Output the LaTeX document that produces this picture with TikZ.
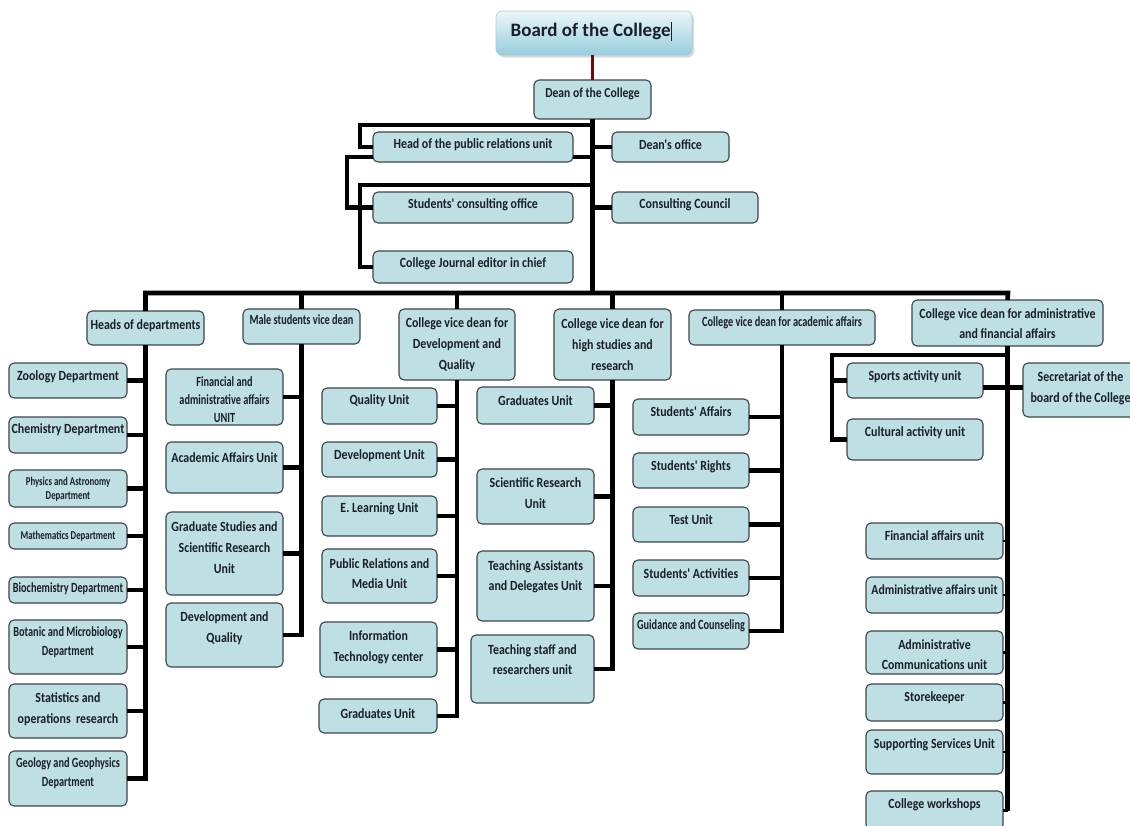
\documentclass[tikz,border=0pt]{standalone}
\usepackage{fontspec}
\newfontfamily\orgfont{Carlito}[FakeStretch=0.85]
\newfontfamily\orgnarrow{Carlito}[FakeStretch=0.735]
\newfontfamily\titlefont{Carlito}
\usetikzlibrary{shadows}

\definecolor{unitfill}{RGB}{190,223,227}
\definecolor{unitline}{RGB}{60,70,72}
\definecolor{inkcol}{RGB}{25,30,40}
\definecolor{boardtop}{RGB}{236,247,250}
\definecolor{boardbot}{RGB}{150,205,220}
\definecolor{boardline}{RGB}{165,205,218}
\definecolor{deanlink}{RGB}{105,12,12}

\newcommand\fs[2]{\fontsize{#1}{#2}\selectfont}
% label faces: regular, narrow, and the small narrow one
\newcommand\nrm{\orgfont\fs{14}{18}}
\newcommand\nrmm[1]{\orgfont\fs{14}{#1}}
\newcommand\sml{\orgnarrow\fs{14}{18}}
\newcommand\smll[1]{\orgnarrow\fs{14}{#1}}
\newcommand\tny{\orgnarrow\fs{12}{14}}

% #1 name, #2 x1, #3 y1, #4 x2, #5 y2, #6 text centre y, #7 face, #8 text
\newcommand\orgbox[8]{%
  \node[unit, minimum width={(#4-#2)*1pt}, minimum height={(#5-#3)*1pt}]
    (#1) at ({(#2+#4)/2},{(#3+#5)/2}) {};
  \node[unittext, font={#7\bfseries}] (#1-t) at ({(#2+#4)/2},#6) {#8};
}

\begin{document}
\begin{tikzpicture}[x=1pt, y=-1pt,
  unit/.style={draw=unitline, fill=unitfill, line width=1.1pt,
    rounded corners=5pt, inner sep=0pt, outer sep=0pt},
  unittext/.style={text=inkcol, align=center, inner sep=0pt},
  wire/.style={line width=4.6pt, black, line join=miter},
  thinwire/.style={line width=2.2pt, black},
  boardbox/.style={rounded corners=6pt, top color=boardtop, bottom color=boardbot,
    draw=boardline, line width=0.6pt, inner sep=0pt, outer sep=0pt,
    drop shadow={opacity=0.3, shadow xshift=2pt, shadow yshift=-2.5pt}},
]
\useasboundingbox (0,0) rectangle (1130,825);
\clip (0,0) rectangle (1130,825);
\fill[white] (0,0) rectangle (1130,825);

% ---------- top of the chart ----------
\node[boardbox, minimum width=196pt, minimum height=44pt] (board) at (594,33) {};
\node[text=inkcol, font={\titlefont\bfseries\fs{19}{22}}] (board-t) at (591,31)
  {Board of the College\rule[-4pt]{0.7pt}{19pt}};

\orgbox{dean}{534}{80}{651}{119}{94}{\orgfont\fs{13.7}{18}}{Dean of the College}
\orgbox{hpr}{373}{132}{573}{162}{145}{\nrm}{Head of the public relations unit}
\orgbox{sco}{373}{192}{573}{223}{205}{\nrm}{Students' consulting office}
\orgbox{cje}{373}{251}{573}{283}{264}{\nrm}{College Journal editor in chief}
\orgbox{dof}{612}{132}{729}{162}{145}{\nrm}{Dean's office}
\orgbox{cc}{612}{192}{758}{223}{205}{\nrm}{Consulting Council}

% ---------- second level ----------
\orgbox{heads}{87}{311}{204}{345}{326}{\nrm}{Heads of departments}
\orgbox{male}{243}{309}{360}{344}{320}{\sml}{Male students vice dean}
\orgbox{vdq}{399}{309}{515}{380}{345}{\nrmm{21}}{College vice dean for\\Development and\\Quality}
\orgbox{vhs}{554}{309}{671}{380}{345}{\nrmm{21}}{College vice dean for\\high studies and\\research}
\orgbox{vaa}{689}{310}{875}{345}{323}{\sml}{College vice dean for academic affairs}
\orgbox{vaf}{912}{300}{1103}{346}{324}{\nrmm{20}}{College vice dean for administrative\\and financial affairs}

% ---------- departments ----------
\orgbox{zoo}{9}{363}{127}{398}{377}{\nrm}{Zoology Department}
\orgbox{chem}{9}{417}{127}{453}{430}{\nrm}{Chemistry Department}
\orgbox{phys}{9}{470}{127}{507}{489}{\tny}{Physics and Astronomy\\Department}
\orgbox{math}{9}{523}{127}{549}{536}{\tny}{Mathematics Department}
\orgbox{bio}{9}{577}{127}{603}{589}{\sml}{Biochemistry Department}
\orgbox{bot}{9}{620}{127}{674}{642}{\smll{19}}{Botanic and Microbiology\\Department}
\orgbox{stat}{9}{684}{127}{738}{709}{\nrmm{21}}{Statistics and\\operations\ \ research}
\orgbox{geo}{9}{751}{127}{806}{773}{\smll{19}}{Geology and Geophysics\\Department}

% ---------- male students vice dean ----------
\orgbox{fau}{166}{369}{283}{425}{400}{\smll{18}}{Financial and\\administrative affairs\\UNIT}
\orgbox{aau}{166}{442}{283}{493}{458}{\nrm}{Academic Affairs Unit}
\orgbox{gss}{166}{512}{283}{595}{548}{\nrmm{21}}{Graduate Studies and\\Scientific Research\\Unit}
\orgbox{dq}{166}{603}{283}{667}{628}{\nrmm{21}}{Development and\\Quality}

% ---------- development and quality ----------
\orgbox{qu}{322}{388}{437}{424}{401}{\nrm}{Quality Unit}
\orgbox{du}{322}{442}{437}{477}{456}{\nrm}{Development Unit}
\orgbox{el}{322}{496}{437}{536}{509}{\nrm}{E. Learning Unit}
\orgbox{pr}{322}{549}{437}{603}{574}{\nrmm{20}}{Public Relations and\\Media Unit}
\orgbox{it}{320}{622}{437}{677}{647}{\nrmm{21}}{Information\\Technology center}
\orgbox{gu}{319}{699}{437}{733}{714}{\nrm}{Graduates Unit}

% ---------- high studies and research ----------
\orgbox{gu2}{477}{387}{594}{424}{401}{\nrm}{Graduates Unit}
\orgbox{sr}{477}{469}{594}{524}{493}{\nrmm{21}}{Scientific Research\\Unit}
\orgbox{ta}{477}{551}{594}{621}{577}{\nrmm{20}}{Teaching Assistants\\and Delegates Unit}
\orgbox{ts}{471}{635}{594}{703}{660}{\nrmm{20}}{Teaching staff and\\researchers unit}

% ---------- academic affairs ----------
\orgbox{sa}{633}{399}{749}{435}{412}{\nrm}{Students' Affairs}
\orgbox{sri}{633}{453}{749}{488}{467}{\nrm}{Students' Rights}
\orgbox{tu}{633}{507}{749}{542}{520}{\nrm}{Test Unit}
\orgbox{sac}{633}{560}{749}{596}{574}{\nrm}{Students' Activities}
\orgbox{gc}{633}{613}{749}{649}{626}{\sml}{Guidance and Counseling}

% ---------- administrative and financial affairs ----------
\orgbox{sp}{847}{363}{983}{398}{377}{\nrm}{Sports activity unit}
\orgbox{cu}{847}{419}{983}{460}{433}{\nrm}{Cultural activity unit}
\orgbox{sec}{1023}{363}{1138}{417}{388}{\nrmm{21}}{Secretariat of the\\board of the College}
\orgbox{fa}{866}{523}{1003}{559}{536}{\nrm}{Financial affairs unit}
\orgbox{aa}{866}{577}{1003}{613}{590}{\orgfont\fs{13.8}{18}}{Administrative affairs unit}
\orgbox{ac}{866}{631}{1003}{674}{655}{\nrmm{20}}{Administrative\\Communications unit}
\orgbox{sk}{866}{684}{1003}{721}{698}{\nrm}{Storekeeper}
\orgbox{ss}{866}{730}{1003}{774}{745}{\nrm}{Supporting Services Unit}
\orgbox{cw}{866}{791}{1003}{830}{805}{\nrm}{College workshops}

% ---------- connectors ----------
\draw[line width=3pt, deanlink] (dean.north |- board.south) -- (dean.north);

\coordinate (barL) at (146,293);
\coordinate (barR) at (1008,293);
\draw[wire] (dean.south) -- (dean.south |- barL);

% units attached to the dean
\draw[wire] (dean.south |- 0,125) -| ([xshift=-13pt]hpr.west) -- (hpr.west);
\draw[wire] ([yshift=-10pt]hpr.east) -- ([yshift=-10pt]hpr.east -| dean.south);
\draw[wire] ([yshift=-10pt]hpr.west) -- ++(-26pt,0) |- (sco.west);
\draw[wire] (dean.south |- 0,185) -| ([xshift=-13pt]cje.west) -- (cje.west);
\draw[wire] (dof.west) -- (dof.west -| dean.south);
\draw[wire] (cc.west) -- (cc.west -| dean.south);

% main horizontal bar and its drops
\draw[wire] (heads.north) -- (heads.north |- barL) -- (barR) -- (vaf.north);
\foreach \n in {male,vdq,vhs,vaa}
  \draw[wire] (\n.north) -- (\n.north |- barL);

% column trunks
\draw[wire] (heads.south) |- (geo.east);
\foreach \n in {zoo,chem,phys,math,bio,bot,stat}
  \draw[wire] (\n.east) -- (\n.east -| heads.south);

\draw[wire] (male.south) |- (dq.east);
\foreach \n in {fau,aau,gss}
  \draw[wire] (\n.east) -- (\n.east -| male.south);

\draw[wire] (vdq.south) |- (gu.east);
\foreach \n in {qu,du,el,pr,it}
  \draw[wire] (\n.east) -- (\n.east -| vdq.south);

\draw[wire] (vhs.south) |- (ts.east);
\foreach \n in {gu2,sr,ta}
  \draw[wire] (\n.east) -- (\n.east -| vhs.south);

\draw[wire] (vaa.south) |- (gc.east);
\foreach \n in {sa,sri,tu,sac}
  \draw[wire] (\n.east) -- (\n.east -| vaa.south);

\draw[wire] (vaf.south) -- (vaf.south |- cw.east);
\draw[wire] ([yshift=-9pt]vaf.south) -| ([xshift=-15pt]cu.west) -- (cu.west);
\draw[wire] (sp.west) -- ++(-15pt,0);
\draw[wire] ([yshift=-7pt]sp.east) -- ([yshift=-7pt]sp.east -| sec.west);
\foreach \n in {fa,aa,ac,sk,ss,cw}
  \draw[thinwire] (\n.east) -- (\n.east -| vaf.south);
\end{tikzpicture}
\end{document}
